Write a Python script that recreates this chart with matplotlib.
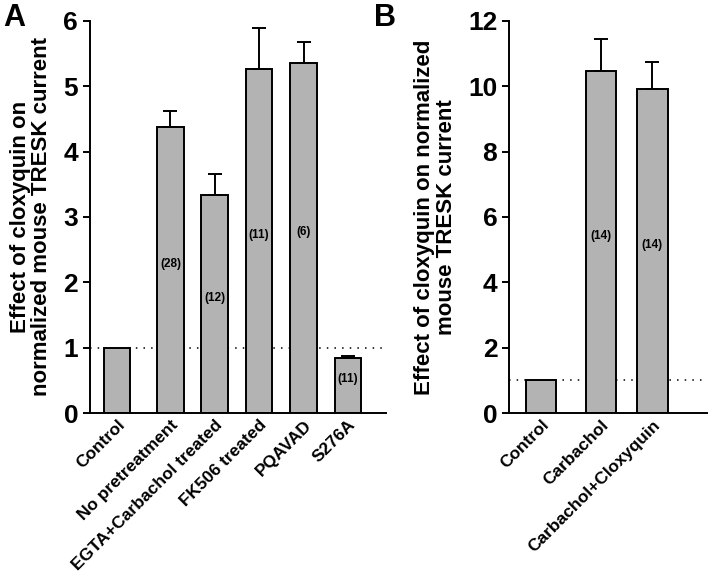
import matplotlib
matplotlib.use("Agg")
import matplotlib.pyplot as plt

plt.rcParams['font.family'] = ['Liberation Sans', 'DejaVu Sans']
plt.rcParams['font.weight'] = 'bold'

# panel A
a_labels = ["Control", "No pretreatment", "EGTA+Carbachol treated", "FK506 treated", "PQAVAD", "S276A"]
a_pos = [0, 1.2, 2.2, 3.2, 4.2, 5.2]
a_vals = [1.0, 4.37, 3.33, 5.26, 5.36, 0.85]
a_err = [0, 0.25, 0.33, 0.63, 0.32, 0.03]
a_n = ["", "(28)", "(12)", "(11)", "(6)", "(11)"]

# panel B
b_labels = ["Control", "Carbachol", "Carbachol+Cloxyquin"]
b_pos = [0, 1.17, 2.17]
b_vals = [1.0, 10.45, 9.9]
b_err = [0, 0.98, 0.85]
b_n = ["", "(14)", "(14)"]

bar_col = "#b3b3b3"
fig = plt.figure(figsize=(7.09, 5.77), dpi=100)
axA = fig.add_axes([0.127, 0.284, 0.417, 0.680])
axB = fig.add_axes([0.718, 0.284, 0.279, 0.680])


def draw(ax, pos, vals, err, ns, labels, ymax, step, xlim, ylab, lpad):
    ax.bar(pos, vals, width=0.6, color=bar_col, edgecolor="black", linewidth=1.4, zorder=2)
    for p, v, e in zip(pos, vals, err):
        if e > 0:
            ax.errorbar([p], [v], yerr=[[0], [e]], fmt="none", ecolor="black",
                        elinewidth=1.4, capsize=5, capthick=1.4, zorder=3)
    for p, v, n in zip(pos, vals, ns):
        if n:
            ax.text(p, v / 2 + ymax * 0.015, n, ha="center", va="center", fontsize=8.5,
                    fontweight="bold", zorder=4)
    ax.axhline(1, color="black", linestyle=(0, (1, 4)), linewidth=1.1, zorder=1)
    ax.set_ylim(0, ymax)
    ax.set_xlim(*xlim)
    ax.set_yticks(range(0, ymax + 1, step))
    ax.set_xticks(pos)
    ax.set_xticklabels(labels, rotation=45, ha="right", rotation_mode="anchor",
                       fontsize=12.5, fontweight="bold")
    ax.tick_params(axis="x", length=0, pad=3)
    ax.tick_params(axis="y", labelsize=19, width=1.4, length=5)
    for t in ax.get_yticklabels():
        t.set_fontweight("bold")
    for s in ["top", "right"]:
        ax.spines[s].set_visible(False)
    for s in ["left", "bottom"]:
        ax.spines[s].set_linewidth(1.4)
    ax.set_ylabel(ylab, fontsize=16, fontweight="bold", labelpad=lpad, linespacing=1.05)


draw(axA, a_pos, a_vals, a_err, a_n, a_labels, 6, 1, (-0.61, 6.05),
     "Effect of cloxyquin on\nnormalized mouse TRESK current", 8)
draw(axB, b_pos, b_vals, b_err, b_n, b_labels, 12, 2, (-0.62, 3.23),
     "Effect of cloxyquin on normalized\nmouse TRESK current", 8)

fig.text(0.005, 0.995, "A", fontsize=22, fontweight="bold", va="top")
fig.text(0.527, 0.995, "B", fontsize=22, fontweight="bold", va="top")

fig.savefig("out.png", dpi=100)
